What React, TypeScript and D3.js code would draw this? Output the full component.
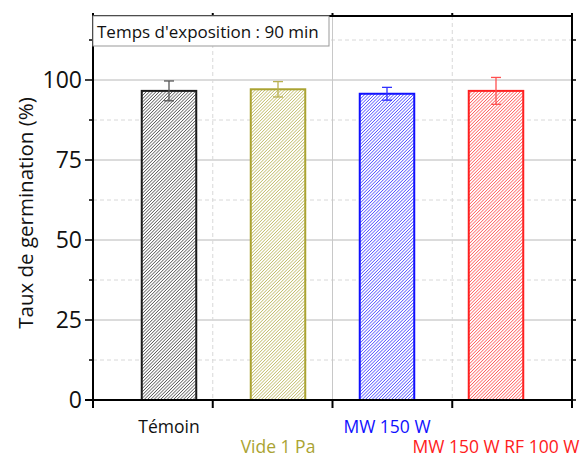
import React from "react";
import * as d3 from "d3";

const categories = ["Témoin", "Vide 1 Pa", "MW 150 W", "MW 150 W RF 100 W"];
const values = [96.6, 97.1, 95.7, 96.6];
const errors = [3.1, 2.4, 2.0, 4.2];
const colors = ["#1a1a1a", "#aaa332", "#1010ff", "#ff2020"];
const errColors = ["#555555", "#b8b050", "#3030ff", "#ff5050"];
const yTicks = [0, 25, 50, 75, 100];
const yMinor = [12.5, 37.5, 62.5, 87.5, 112.5];
const xGridSolid = [2];
const xGridDashed = [1, 3];
const xTicks = [0, 1, 2, 3, 4];

const W = 582, H = 459;
const L = 93, R = 572, T = 16, B = 400;

export default function App() {
  const y = d3.scaleLinear().domain([0, 120]).range([B, T]);
  const xa = d3.scaleLinear().domain([0, 4]).range([L, R]);
  const xb = d3.scaleBand<string>().domain(categories).range([114.5, 550.5]).paddingInner(0.5).paddingOuter(0.25);
  const font = "'Open Sans', sans-serif";
  const hs = 2.3;
  return (
    <svg width={W} height={H} style={{ position: "absolute", left: 0, top: 0 }}>
      <defs>
        {colors.map((c, i) => (
          <pattern key={i} id={`hatch${i}`} patternUnits="userSpaceOnUse" width={hs} height={hs} patternTransform="rotate(45)">
            <rect width={hs} height={hs} fill="white" />
            <line x1={0} y1={0} x2={0} y2={hs} stroke={c} strokeWidth={1.1} />
          </pattern>
        ))}
      </defs>
      <rect width={W} height={H} fill="white" />
      {/* grid */}
      {yMinor.map((v) => (
        <line key={"ym" + v} x1={L} x2={R} y1={y(v)} y2={y(v)} stroke="#d8d8d8" strokeDasharray="4,3" strokeWidth={1} />
      ))}
      {yTicks.filter((v) => v > 0).map((v) => (
        <line key={"yg" + v} x1={L} x2={R} y1={y(v)} y2={y(v)} stroke="#b8b8b8" strokeWidth={1} />
      ))}
      {xGridDashed.map((v) => (
        <line key={"xd" + v} x1={xa(v)} x2={xa(v)} y1={T} y2={B} stroke="#d8d8d8" strokeDasharray="4,3" strokeWidth={1} />
      ))}
      {xGridSolid.map((v) => (
        <line key={"xs" + v} x1={xa(v)} x2={xa(v)} y1={T} y2={B} stroke="#c8c8c8" strokeWidth={1} />
      ))}
      {/* bars */}
      {categories.map((c, i) => {
        const x0 = xb(c)!;
        const bw = xb.bandwidth();
        const cx = x0 + bw / 2;
        return (
          <g key={c}>
            <rect x={x0} y={y(values[i])} width={bw} height={B - y(values[i])} fill={`url(#hatch${i})`} stroke={colors[i]} strokeWidth={2} />
            <line x1={cx} x2={cx} y1={y(values[i] + errors[i])} y2={y(values[i] - errors[i])} stroke={errColors[i]} strokeWidth={1.3} />
            <line x1={cx - 5} x2={cx + 5} y1={y(values[i] + errors[i])} y2={y(values[i] + errors[i])} stroke={errColors[i]} strokeWidth={1.3} />
            <line x1={cx - 5} x2={cx + 5} y1={y(values[i] - errors[i])} y2={y(values[i] - errors[i])} stroke={errColors[i]} strokeWidth={1.3} />
          </g>
        );
      })}
      {/* axes frame */}
      <line x1={L} x2={R} y1={T} y2={T} stroke="black" strokeWidth={2} />
      <line x1={R} x2={R} y1={T - 3} y2={B + 8} stroke="black" strokeWidth={2} />
      <line x1={L} x2={L} y1={T - 3} y2={B + 8} stroke="black" strokeWidth={2} />
      <line x1={L - 8} x2={R + 1} y1={B} y2={B} stroke="black" strokeWidth={2} />
      {xTicks.map((v) => (
        <g key={"xt" + v}>
          <line x1={xa(v)} x2={xa(v)} y1={B} y2={B + 8} stroke="black" strokeWidth={2} />
          <line x1={xa(v)} x2={xa(v)} y1={T} y2={T - 3} stroke="black" strokeWidth={2} />
        </g>
      ))}
      {yTicks.map((v) => (
        <g key={"yt" + v}>
          <line x1={L - 8} x2={L} y1={y(v)} y2={y(v)} stroke="black" strokeWidth={1.5} />
          <line x1={R} x2={R + 4} y1={y(v)} y2={y(v)} stroke="black" strokeWidth={1.5} />
          <text x={L - 11} y={y(v)} dy="0.36em" textAnchor="end" fontFamily={font} fontSize={23} fill="#111">{v}</text>
        </g>
      ))}
      {yMinor.map((v) => (
        <g key={"ymt" + v}>
          <line x1={L - 4} x2={L} y1={y(v)} y2={y(v)} stroke="black" strokeWidth={1.5} />
          <line x1={R} x2={R + 4} y1={y(v)} y2={y(v)} stroke="black" strokeWidth={1.5} />
        </g>
      ))}
      {/* category labels */}
      {categories.map((c, i) => (
        <text key={"cl" + c} x={xb(c)! + xb.bandwidth() / 2} y={i % 2 === 0 ? 433 : 453} textAnchor="middle" fontFamily={font} fontSize={17.5} fill={i === 0 ? "#111" : colors[i]}>{c}</text>
      ))}
      {/* y label */}
      <text transform={`translate(33,213) rotate(-90)`} textAnchor="middle" fontFamily={font} fontSize={20.5} fill="#111">Taux de germination (%)</text>
      {/* legend box */}
      <rect x={L} y={T} width={236} height={30} fill="white" stroke="#999" strokeWidth={1} />
      <text x={L + 4} y={38} fontFamily={font} fontSize={17} fill="#111">Temps d'exposition : 90 min</text>
    </svg>
  );
}
